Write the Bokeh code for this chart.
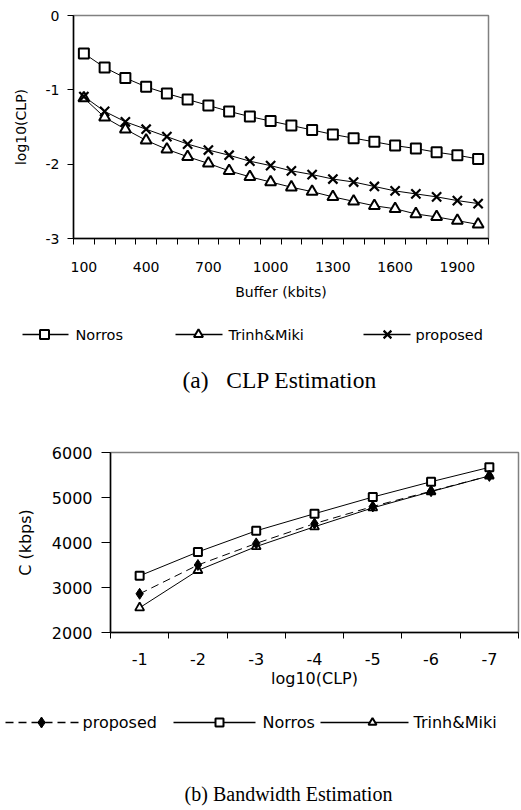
from bokeh.plotting import figure
from bokeh.models import Range1d, FixedTicker
from bokeh.core.properties import value
from bokeh.embed import file_html
from bokeh.resources import INLINE

# ---- (a) CLP estimation: log10(CLP) against buffer size ----
buffer_kbits = [100, 200, 300, 400, 500, 600, 700, 800, 900, 1000,
                1100, 1200, 1300, 1400, 1500, 1600, 1700, 1800, 1900, 2000]
clp_norros = [-0.51, -0.70, -0.84, -0.96, -1.05, -1.13, -1.21, -1.29, -1.36, -1.42,
              -1.48, -1.54, -1.60, -1.65, -1.70, -1.75, -1.79, -1.84, -1.88, -1.93]
clp_trinh = [-1.11, -1.37, -1.53, -1.68, -1.80, -1.90, -1.99, -2.09, -2.17, -2.24,
             -2.31, -2.37, -2.44, -2.50, -2.56, -2.60, -2.67, -2.71, -2.76, -2.81]
clp_proposed = [-1.09, -1.29, -1.43, -1.53, -1.63, -1.73, -1.81, -1.88, -1.96, -2.02,
                -2.09, -2.14, -2.20, -2.24, -2.30, -2.36, -2.40, -2.44, -2.49, -2.53]
buffer_label_ticks = [100, 400, 700, 1000, 1300, 1600, 1900]
clp_axis_ticks = [0, -1, -2, -3]

# ---- (b) bandwidth estimation: C against log10(CLP) ----
log_clp = [-1, -2, -3, -4, -5, -6, -7]
bw_proposed = [2860, 3500, 3980, 4420, 4800, 5140, 5480]
bw_norros = [3260, 3790, 4260, 4640, 5010, 5350, 5670]
bw_trinh = [2550, 3380, 3910, 4350, 4770, 5130, 5480]
bw_axis_ticks = [2000, 3000, 4000, 5000, 6000]

series_names = ["Norros", "Trinh&Miki", "proposed"]

SANS = "DejaVu Sans"
SERIF = "Liberation Serif"
W = 521


def plain_minus(ticks):
    # ASCII hyphen-minus for negative tick labels
    return {t: str(t) for t in ticks}


def style_axes(p, font_size):
    for ax in (p.xaxis[0], p.yaxis[0]):
        ax.axis_line_color = "black"
        ax.axis_line_width = 1.5
        ax.major_label_text_font = SANS
        ax.major_label_text_font_size = font_size
        ax.major_label_text_color = "black"
        ax.axis_label_text_font = SANS
        ax.axis_label_text_font_size = font_size
        ax.axis_label_text_font_style = "normal"
        ax.axis_label_text_color = "black"
        ax.major_tick_line_color = "black"
        ax.minor_tick_line_color = "black"
        ax.major_tick_in = 0
        ax.minor_tick_in = 0
    p.xgrid.visible = False
    p.ygrid.visible = False
    p.outline_line_color = "#808080"
    p.outline_line_width = 1.5
    p.background_fill_color = "white"
    p.border_fill_color = "white"


def key_panel(height):
    k = figure(width=W, height=height, x_range=Range1d(0, W), y_range=Range1d(height, 0),
               x_axis_type=None, y_axis_type=None, output_backend="svg",
               toolbar_location=None, min_border=0)
    k.xgrid.visible = False
    k.ygrid.visible = False
    k.outline_line_color = None
    return k


# ---------------- chart (a) ----------------
pa = figure(width=W, height=310, x_range=Range1d(50, 2050), y_range=Range1d(-3, 0),
            output_backend="svg", toolbar_location=None,
            min_border_left=73, min_border_right=33, min_border_top=15, min_border_bottom=72)
style_axes(pa, "14px")
pa.xaxis.ticker = FixedTicker(ticks=buffer_label_ticks,
                              minor_ticks=[b - 50 for b in buffer_kbits] + [buffer_kbits[-1] + 50])
pa.xaxis.major_tick_out = 0
pa.xaxis.minor_tick_out = 6
pa.xaxis.major_label_standoff = 17
pa.xaxis.axis_label = "Buffer (kbits)"
pa.xaxis.axis_label_standoff = 9
pa.yaxis.ticker = FixedTicker(ticks=clp_axis_ticks, minor_ticks=[])
pa.yaxis.major_label_overrides = plain_minus(clp_axis_ticks)
pa.yaxis.major_tick_out = 6
pa.yaxis.major_label_standoff = 8
pa.yaxis.axis_label = "log10(CLP)"
pa.yaxis.axis_label_standoff = 14

pa.line(buffer_kbits, clp_norros, line_color="black", line_width=1)
pa.line(buffer_kbits, clp_trinh, line_color="black", line_width=1)
pa.line(buffer_kbits, clp_proposed, line_color="black", line_width=1)
pa.scatter(buffer_kbits, clp_norros, marker="square", size=10, fill_color="white",
           line_color="black", line_width=2)
pa.scatter(buffer_kbits, clp_trinh, marker="triangle", size=11, fill_color="white",
           line_color="black", line_width=2)
pa.scatter(buffer_kbits, clp_proposed, marker="x", size=13, line_color="black", line_width=2.2)

# key and caption for (a)
ka = key_panel(100)
ka_y = 24
ka_lines = [(22, 68), (175, 222), (363, 410)]
for (x0, x1) in ka_lines:
    ka.line([x0, x1], [ka_y, ka_y], line_color="black", line_width=1.5)
ka.scatter([44], [ka_y], marker="square", size=9, fill_color="white", line_color="black", line_width=2)
ka.scatter([198], [ka_y], marker="triangle", size=9, fill_color="white", line_color="black", line_width=2)
ka.scatter([387], [ka_y], marker="x", size=11, line_color="black", line_width=2.2)
ka.text(x=[75, 228, 415], y=[ka_y] * 3, text=series_names, text_font=value(SANS),
        text_font_size="14.5px", text_baseline="middle", text_color="black")
ka.text(x=[182], y=[69], text=["(a)\u00a0\u00a0 CLP Estimation"],
        text_font=value(SERIF), text_font_size="23.5px", text_align="left",
        text_baseline="middle", text_color="black")

# ---------------- chart (b) ----------------
pb = figure(width=W, height=280, x_range=Range1d(-0.5, -7.5), y_range=Range1d(2000, 6000),
            output_backend="svg", toolbar_location=None,
            min_border_left=110, min_border_right=3, min_border_top=42, min_border_bottom=56)
style_axes(pb, "16px")
pb.xaxis.ticker = FixedTicker(ticks=log_clp, minor_ticks=[c + 0.5 for c in log_clp] + [log_clp[-1] - 0.5])
pb.xaxis.major_label_overrides = plain_minus(log_clp)
pb.xaxis.major_tick_out = 0
pb.xaxis.minor_tick_out = 6
pb.xaxis.major_label_standoff = 14
pb.xaxis.axis_label = "log10(CLP)"
pb.xaxis.axis_label_standoff = 1
pb.yaxis.ticker = FixedTicker(ticks=bw_axis_ticks, minor_ticks=[])
pb.yaxis.major_tick_out = 9
pb.yaxis.major_label_standoff = 9
pb.yaxis.axis_label = "C (kbps)"
pb.yaxis.axis_label_standoff = 14

pb.line(log_clp, bw_norros, line_color="black", line_width=1)
pb.line(log_clp, bw_trinh, line_color="black", line_width=1)
pb.line(log_clp, bw_proposed, line_color="black", line_width=1, line_dash="8 5")
pb.scatter(log_clp, bw_norros, marker="square", size=8, fill_color="white",
           line_color="black", line_width=2)
pb.scatter(log_clp, bw_trinh, marker="triangle", size=9, fill_color="white",
           line_color="black", line_width=1.8)
pb.scatter(log_clp, bw_proposed, marker="diamond", size=11, fill_color="black",
           line_color="black", line_width=1)

# key and caption for (b)
kb = key_panel(120)
kb_y = 32
kb.line([5, 78], [kb_y, kb_y], line_color="black", line_width=1.5, line_dash="8 5")
kb.line([173, 255], [kb_y, kb_y], line_color="black", line_width=1.5)
kb.line([320, 408], [kb_y, kb_y], line_color="black", line_width=1.5)
kb.scatter([41], [kb_y], marker="diamond", size=11, fill_color="black", line_color="black")
kb.scatter([219], [kb_y], marker="square", size=8, fill_color="white", line_color="black", line_width=2)
kb.scatter([372], [kb_y], marker="triangle", size=8, fill_color="white", line_color="black", line_width=2)
kb.text(x=[82, 262, 413], y=[kb_y] * 3, text=[series_names[2], series_names[0], series_names[1]],
        text_font=value(SANS), text_font_size="16px", text_baseline="middle", text_color="black")
kb.text(x=[288], y=[103], text=["(b) Bandwidth Estimation"], text_font=value(SERIF),
        text_font_size="20px", text_align="center", text_baseline="middle", text_color="black")

# each panel is its own root so that frames are not aligned across panels
open("out.html", "w").write(file_html([pa, ka, pb, kb], INLINE))
